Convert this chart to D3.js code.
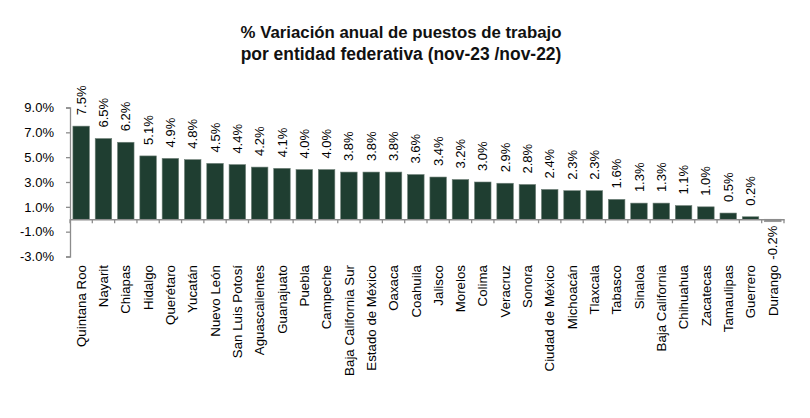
<!DOCTYPE html>
<html><head><meta charset="utf-8">
<script src="https://cdn.jsdelivr.net/npm/d3@7"></script>
<style>body{margin:0;background:#fff}svg{display:block}</style>
</head><body>
<svg id="c" width="810" height="418"></svg>
<script>
const categories = ["Quintana Roo","Nayarit","Chiapas","Hidalgo","Querétaro","Yucatán","Nuevo León","San Luis Potosí","Aguascalientes","Guanajuato","Puebla","Campeche","Baja California Sur","Estado de México","Oaxaca","Coahuila","Jalisco","Morelos","Colima","Veracruz","Sonora","Ciudad de México","Michoacán","Tlaxcala","Tabasco","Sinaloa","Baja California","Chihuahua","Zacatecas","Tamaulipas","Guerrero","Durango"];
const values = [7.5,6.5,6.2,5.1,4.9,4.8,4.5,4.4,4.2,4.1,4.0,4.0,3.8,3.8,3.8,3.6,3.4,3.2,3.0,2.9,2.8,2.4,2.3,2.3,1.6,1.3,1.3,1.1,1.0,0.5,0.2,-0.2];
const yTicks = [-3,-1,1,3,5,7,9];
const titleLines = ["% Variación anual de puestos de trabajo","por entidad federativa (nov-23 /nov-22)"];

const svg = d3.select("#c");
const font = "'Liberation Sans', Arial, sans-serif";
const pct = d => d.toFixed(1) + "%";
const x = d3.scaleBand().domain(categories).range([70,784]).paddingInner(0.26).paddingOuter(0.13);
const y = d3.scaleLinear().domain([-3,9]).range([256.5,107.5]);
const data = categories.map((c,i)=>({c, v: values[i]}));

// title
const t = svg.append("g");
titleLines.forEach((s,i)=>{
  const tx = t.append("text").attr("x",401).attr("y",37.5+i*22.5)
    .attr("text-anchor","middle").attr("font-family",font).attr("font-weight","bold")
    .attr("font-size",15).attr("fill","#111").text(s);
  const w = tx.node().getComputedTextLength();
  tx.attr("font-size", 15*321/w);
});

// y axis
const yAxis = d3.axisLeft(y).tickValues(yTicks).tickSize(4).tickPadding(12).tickFormat(pct);
const ga = svg.append("g").attr("transform","translate(70,0)").call(yAxis);
ga.select(".domain").attr("stroke","#8c8c8c").attr("stroke-width",1.3);
ga.selectAll(".tick line").attr("stroke","#8c8c8c").attr("stroke-width",1.3);
ga.selectAll(".tick text").attr("font-family",font).attr("font-size",13).attr("fill","#000");

// bars
svg.append("g").selectAll("rect").data(data).join("rect")
  .attr("x",d=>x(d.c)).attr("width",x.bandwidth())
  .attr("y",d=>y(Math.max(0,d.v))).attr("height",d=>Math.abs(y(d.v)-y(0)))
  .attr("fill",d=>d.v<0?"#8e8e8e":"#1f3e31")
  .attr("stroke",d=>d.v<0?"#8e8e8e":"#6f8078").attr("stroke-width",0.6);

// x axis at zero
const xAxis = d3.axisBottom(x).tickSize(0).tickFormat("");
const gx = svg.append("g").attr("transform",`translate(0,${y(0)})`).call(xAxis);
gx.select(".domain").attr("stroke","#8c8c8c").attr("stroke-width",1.3);
const bounds = d3.range(categories.length+1);
gx.selectAll(".bnd").data(bounds).join("line")
  .attr("x1",i=>70+i*x.step()).attr("x2",i=>70+i*x.step())
  .attr("y1",0).attr("y2",4).attr("stroke","#8c8c8c").attr("stroke-width",1.3);

// category labels
svg.append("g").selectAll("text").data(data).join("text")
  .attr("transform",d=>`translate(${x(d.c)+x.bandwidth()/2},265) rotate(-90)`)
  .attr("text-anchor","end").attr("dy","0.35em")
  .attr("font-family",font).attr("font-size",13.3).attr("fill","#000")
  .text(d=>d.c);

// value labels
svg.append("g").selectAll("text").data(data).join("text")
  .attr("transform",d=>{
    const cx = x(d.c)+x.bandwidth()/2;
    const yy = d.v>=0 ? y(d.v)-11 : y(d.v)+4;
    return `translate(${cx},${yy}) rotate(-90)`;
  })
  .attr("text-anchor",d=>d.v>=0?"start":"end").attr("dy","0.35em")
  .attr("font-family",font).attr("font-size",13).attr("fill","#000")
  .text(d=>pct(d.v));
</script>
</body></html>
